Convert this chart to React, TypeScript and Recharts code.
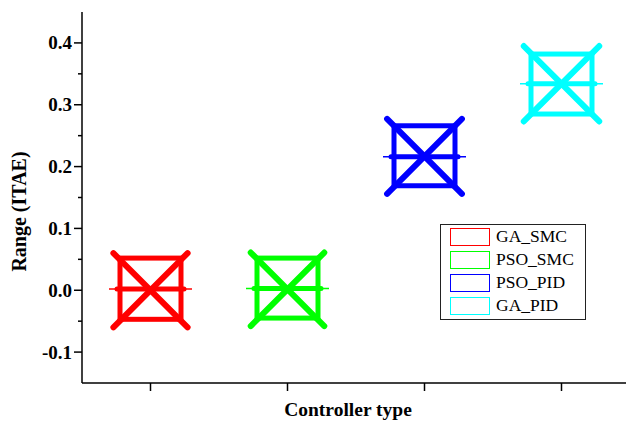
import React from "react";
import { Bar, ComposedChart, Legend, XAxis, YAxis } from "recharts";

const controllers = ["GA_SMC", "PSO_SMC", "PSO_PID", "GA_PID"];
const boxTop = [0.052, 0.052, 0.266, 0.382];
const boxBottom = [-0.047, -0.045, 0.169, 0.285];
const medians = [0.002, 0.003, 0.216, 0.334];
const crossTop = [0.06, 0.061, 0.277, 0.395];
const crossBottom = [-0.06, -0.058, 0.156, 0.273];
const colors = ["#ff0000", "#00ff00", "#0000ff", "#00ffff"];

const yMajor = [-0.1, 0, 0.1, 0.2, 0.3, 0.4];
const yMinor = [-0.05, 0.05, 0.15, 0.25, 0.35];

const data = controllers.map((name, i) => ({
  name,
  idx: i,
  range: [boxBottom[i], boxTop[i]],
}));

const FONT = "'Liberation Serif', 'Times New Roman', serif";

function LeftTick({ x, y, payload }: any) {
  const major = yMajor.includes(payload.value);
  return (
    <g>
      <line x1={x} x2={x - (major ? 8 : 4)} y1={y} y2={y} stroke="#000" strokeWidth={1.5} />
      {major && (
        <text
          x={x - 10}
          y={y}
          textAnchor="end"
          dominantBaseline="central"
          fontFamily={FONT}
          fontWeight="bold"
          fontSize={19}
          fill="#000"
        >
          {payload.value.toFixed(1)}
        </text>
      )}
    </g>
  );
}

function RightTick({ x, y, payload }: any) {
  const major = yMajor.includes(payload.value);
  return <line x1={x} x2={x - (major ? 8 : 4)} y1={y} y2={y} stroke="#000" strokeWidth={1.5} />;
}

function BottomTick({ x, y }: any) {
  return <line x1={x} x2={x} y1={y} y2={y + 8} stroke="#000" strokeWidth={1.5} />;
}

function TopTick({ x, y }: any) {
  return <line x1={x} x2={x} y1={y} y2={y + 8} stroke="#000" strokeWidth={1.5} />;
}

function BoxShape(props: any) {
  const { x, y, width, height, payload } = props;
  const i = payload.idx;
  const color = colors[i];
  const top = boxTop[i];
  const bottom = boxBottom[i];
  const yTop = Math.min(y, y + height);
  const k = Math.abs(height) / (top - bottom);
  const py = (v: number) => yTop + (top - v) * k;
  const cx = x + width / 2;
  const half = width / 2;
  const cTop = py(crossTop[i]);
  const cBot = py(crossBottom[i]);
  const h = (cBot - cTop) / 2;
  const ym = py(medians[i]);
  return (
    <g>
      <line x1={cx - 41.5} x2={cx + 41.5} y1={ym} y2={ym} stroke={color} strokeWidth={1.5} />
      <rect
        x={cx - half}
        y={py(top)}
        width={width}
        height={py(bottom) - py(top)}
        fill="none"
        stroke={color}
        strokeWidth={5}
      />
      <line x1={cx - half - 3} x2={cx + half + 3} y1={ym} y2={ym} stroke={color} strokeWidth={5} strokeLinecap="round" />
      <line x1={cx - h} y1={cTop} x2={cx + h} y2={cBot} stroke={color} strokeWidth={6} strokeLinecap="round" />
      <line x1={cx + h} y1={cTop} x2={cx - h} y2={cBot} stroke={color} strokeWidth={6} strokeLinecap="round" />
    </g>
  );
}

function LegendBox() {
  return (
    <div
      style={{
        position: "relative",
        width: 144,
        height: 94,
        border: "1px solid #222",
        background: "#fff",
        fontFamily: FONT,
        fontSize: 17.5,
        color: "#000",
      }}
    >
      {controllers.map((name, i) => (
        <div key={name} style={{ position: "absolute", left: 9, top: 2 + i * 23, height: 19, display: "flex", alignItems: "center" }}>
          <div style={{ width: 38, height: 16, border: `1.5px solid ${colors[i]}`, background: "#fff" }} />
          <span style={{ marginLeft: 6, lineHeight: "19px" }}>{name}</span>
        </div>
      ))}
    </div>
  );
}

export default function App() {
  return (
    <div style={{ position: "fixed", left: 0, top: 0, width: 626, height: 422, overflow: "hidden", background: "#fff" }}>
      <ComposedChart width={640} height={422} data={data} margin={{ top: 12, right: 10, left: 0, bottom: 0 }}>
        <XAxis
          dataKey="name"
          type="category"
          height={39}
          axisLine={{ stroke: "#000", strokeWidth: 1.5 }}
          tickLine={false}
          tickSize={0}
          tickMargin={0}
          tick={<BottomTick />}
          label={({ viewBox }: any) => (
            <text
              x={viewBox.x + viewBox.width / 2 - 8}
              y={viewBox.y + 26}
              textAnchor="middle"
              dominantBaseline="central"
              fontFamily={FONT}
              fontWeight="bold"
              fontSize={19.5}
              fill="#000"
            >
              Controller type
            </text>
          )}
        />
        <XAxis
          xAxisId="top"
          dataKey="name"
          type="category"
          orientation="top"
          height={0}
          axisLine={{ stroke: "#000", strokeWidth: 1.5 }}
          tickLine={false}
          tickSize={0}
          tickMargin={0}
          tick={<TopTick />}
        />
        <YAxis
          type="number"
          domain={[-0.15, 0.45]}
          allowDataOverflow
          ticks={[...yMajor, ...yMinor]}
          width={82}
          axisLine={{ stroke: "#000", strokeWidth: 1.5 }}
          tickLine={false}
          tickSize={0}
          tickMargin={0}
          tick={<LeftTick />}
          interval={0}
          label={({ viewBox }: any) => (
            <text
              x={19}
              y={viewBox.y + viewBox.height / 2 + 14}
              textAnchor="middle"
              dominantBaseline="central"
              transform={`rotate(-90, 19, ${viewBox.y + viewBox.height / 2 + 14})`}
              fontFamily={FONT}
              fontWeight="bold"
              fontSize={20}
              fill="#000"
            >
              Range (ITAE)
            </text>
          )}
        />
        <YAxis
          yAxisId="right"
          orientation="right"
          type="number"
          domain={[-0.15, 0.45]}
          allowDataOverflow
          ticks={[...yMajor, ...yMinor]}
          width={0}
          axisLine={{ stroke: "#000", strokeWidth: 1.5 }}
          tickLine={false}
          tickSize={0}
          tickMargin={0}
          tick={<RightTick />}
          interval={0}
        />
        <Bar dataKey="range" barSize={61} shape={<BoxShape />} isAnimationActive={false} />
        <Legend
          layout="horizontal"
          verticalAlign="middle"
          align="center"
          wrapperStyle={{ position: "absolute", left: 440, top: 224, width: 146, height: 96 }}
          content={() => <LegendBox />}
        />
      </ComposedChart>
    </div>
  );
}
